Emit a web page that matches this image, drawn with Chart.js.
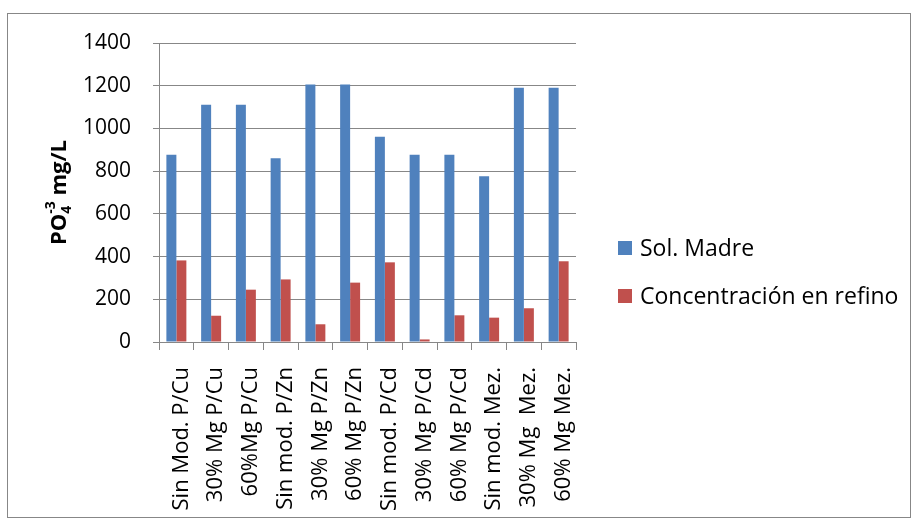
<!DOCTYPE html>
<html>
<head>
<meta charset="utf-8">
<script src="https://cdn.jsdelivr.net/npm/chart.js@4/dist/chart.umd.min.js"></script>
<style>
  html, body { margin: 0; padding: 0; background: #fff; }
  #wrap { width: 917px; height: 524px; position: relative; }
</style>
</head>
<body>
<div id="wrap"><canvas id="c" width="917" height="524"></canvas></div>
<script>
// categorías y valores
const categorias = [
  'Sin Mod. P/Cu', '30% Mg P/Cu', '60%Mg P/Cu', 'Sin mod. P/Zn',
  '30% Mg P/Zn', '60% Mg P/Zn', 'Sin mod. P/Cd', '30% Mg P/Cd',
  '60% Mg P/Cd', 'Sin mod. Mez.', '30% Mg  Mez.', '60% Mg Mez.'
];
const solMadre = [877, 1111, 1111, 860, 1206, 1206, 961, 877, 877, 776, 1191, 1191];
const refino   = [382, 123, 245, 293, 83, 278, 373, 12, 125, 114, 158, 378];
const serieNombres = ['Sol. Madre', 'Concentración en refino'];
const yTicks = [0, 200, 400, 600, 800, 1000, 1200, 1400];

const FONT = "'Open Sans', 'Noto Sans', sans-serif";
const GRIS = '#878787';

// marco exterior + fondo
const marco = {
  id: 'marco',
  beforeDraw(chart) {
    const ctx = chart.ctx;
    ctx.save();
    ctx.fillStyle = '#fff';
    ctx.fillRect(0, 0, chart.width, chart.height);
    ctx.strokeStyle = GRIS;
    ctx.lineWidth = 1;
    ctx.strokeRect(7.5, 13.5, 903, 504);
    ctx.restore();
  }
};

// título del eje Y con subíndice y superíndice
const tituloY = {
  id: 'tituloY',
  afterDraw(chart) {
    const ctx = chart.ctx;
    const area = chart.chartArea;
    const big = 'bold 22px ' + FONT, small = 'bold 14px ' + FONT;
    const partes = [
      { t: 'PO', f: big, dy: 0 },
      { t: '4', f: small, dy: 5 },
      { t: '-3', f: small, dy: -11 },
      { t: ' mg/L', f: big, dy: 0 }
    ];
    ctx.save();
    partes.forEach(p => { ctx.font = p.f; p.w = ctx.measureText(p.t).width; });
    // sub y super se superponen
    const total = partes[0].w + Math.max(partes[1].w, partes[2].w) + partes[3].w;
    ctx.translate(66, (area.top + area.bottom) / 2);
    ctx.rotate(-Math.PI / 2);
    ctx.fillStyle = '#000';
    ctx.textBaseline = 'alphabetic';
    let x = -total / 2;
    ctx.font = partes[0].f; ctx.fillText(partes[0].t, x, 0); x += partes[0].w;
    ctx.font = partes[1].f; ctx.fillText(partes[1].t, x, partes[1].dy);
    ctx.font = partes[2].f; ctx.fillText(partes[2].t, x, partes[2].dy);
    x += Math.max(partes[1].w, partes[2].w);
    ctx.font = partes[3].f; ctx.fillText(partes[3].t, x, 0);
    ctx.restore();
  }
};

// leyenda a la derecha
const leyenda = {
  id: 'leyenda',
  afterDraw(chart) {
    const ctx = chart.ctx;
    const filas = [248, 296];
    ctx.save();
    ctx.font = '23px ' + FONT;
    ctx.textBaseline = 'middle';
    chart.data.datasets.forEach((ds, i) => {
      const y = filas[i];
      ctx.fillStyle = ds.backgroundColor;
      ctx.fillRect(618, y - 7, 14, 14);
      ctx.fillStyle = '#000';
      ctx.fillText(ds.label, 640, y + 1);
    });
    ctx.restore();
  }
};

new Chart(document.getElementById('c').getContext('2d'), {
  type: 'bar',
  data: {
    labels: categorias,
    datasets: [
      { label: serieNombres[0], data: solMadre, backgroundColor: '#4F81BD' },
      { label: serieNombres[1], data: refino, backgroundColor: '#C0504D' }
    ]
  },
  options: {
    responsive: false,
    animation: false,
    events: [],
    layout: { padding: { top: 43, right: 341, left: 0, bottom: 0 } },
    datasets: { bar: { categoryPercentage: 0.575, barPercentage: 1, borderWidth: 0 } },
    plugins: { legend: { display: false }, tooltip: { enabled: false } },
    scales: {
      x: {
        afterFit(s) { s.height = 182; },
        grid: { display: true, offset: true, drawOnChartArea: false, drawTicks: true, tickLength: 8, color: GRIS, lineWidth: 1 },
        border: { display: true, color: GRIS, width: 1 },
        ticks: { color: '#000', font: { family: FONT, size: 22 }, minRotation: 90, maxRotation: 90, padding: 17, labelOffset: 5, autoSkip: false }
      },
      y: {
        min: 0, max: 1400,
        afterFit(s) { s.width = 159; },
        afterBuildTicks(s) { s.ticks = yTicks.map(v => ({ value: v })); },
        grid: { color: GRIS, lineWidth: 1, drawTicks: true, tickLength: 6 },
        border: { display: true, color: GRIS, width: 1 },
        ticks: { color: '#000', font: { family: FONT, size: 21 }, padding: 22, callback: v => String(v) }
      }
    }
  },
  plugins: [marco, tituloY, leyenda]
});
</script>
</body>
</html>
